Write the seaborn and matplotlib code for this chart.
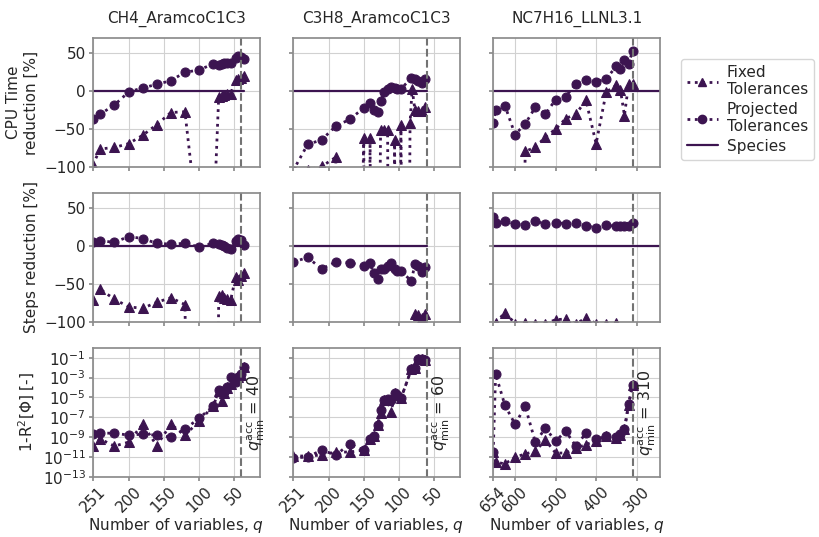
import numpy as np
import matplotlib
matplotlib.use("Agg")
import matplotlib.pyplot as plt
import matplotlib.transforms as mtransforms
from matplotlib.lines import Line2D
import seaborn as sns

sns.set_theme(style="whitegrid")
plt.rcParams['font.family'] = ['DejaVu Sans']
plt.rcParams['axes.edgecolor'] = '0.55'
plt.rcParams['grid.color'] = '0.82'
plt.rcParams['xtick.bottom'] = True
plt.rcParams['ytick.left'] = True

color = "#3c1450"
fs = 11

mechs = ["CH4_AramcoC1C3", "C3H8_AramcoC1C3", "NC7H16_LLNL3.1"]
q_min = [40, 60, 310]
x_ticks = [[251, 200, 150, 100, 50], [251, 200, 150, 100, 50], [654, 600, 500, 400, 300]]
x_lims = [(251, 14), (251, 13), (654, 242)]

# ---- CH4_AramcoC1C3 ----
ch4_q = [251, 240, 220, 200, 180, 160, 140, 120, 100, 80, 72, 68, 64, 60, 55, 48, 44, 40, 36]
ch4_cpu_proj = [-36, -30, -18, -1, 4.5, 9, 14, 25, 28, 36, 34, 36, 37, 37, 37, 44, 47, 45, 43]
ch4_cpu_fixed = [-97, -76, -74, -69, -58, -44, -28, -27, -190, -190, -7, -6, -5, -4, -3, 15, 16, 18, 20]
ch4_steps_proj = [6, 7, 5, 12.6, 10, 3.6, 2.7, 3.6, -1, 3.6, 3, 1, 0, -2, -4, 7, 9, 8, 1]
ch4_steps_fixed = [-71, -57, -70, -80, -82, -74, -68, -77, -1000, -1000, -66, -65, -68, -70, -71, -41, -44, -40, -35]
ch4_err_proj = [-8.7, -8.6, -8.6, -8.8, -8.7, -8.8, -9.0, -8.2, -7.1, -5.9, -4.3, -4.4, -4.5, -3.9, -2.9, -3.4, -2.9, -2.6, -1.9]
ch4_err_fixed = [-9.85, -9.2, -9.9, -9.5, -7.7, -9.85, -7.7, -8.8, -7.4, -5.9, -4.4, -5.4, -4.6, -4.0, -3.6, -3.1, -2.9, -2.7, -1.9]
ch4_species_q = [251, 36]

# ---- C3H8_AramcoC1C3 ----
c3h8_q = [251, 230, 210, 190, 170, 150, 141, 136, 130, 126, 121, 116, 111, 106, 102, 97, 82, 77, 73, 67, 62]
c3h8_cpu_proj = [-105, -70, -64, -46, -37, -22, -16, -25, -27, -13, -1, 3, 5, 4, 3, 3.5, 17, 15.6, 13, 11, 16]
c3h8_cpu_fixed_q = [251, 230, 210, 190, 170, 150, 146, 141, 136, 126, 121, 116, 111, 106, 102, 97, 90, 84, 81, 77, 73, 67, 62]
c3h8_cpu_fixed = [-115, -104, -99, -87, -1000, -62, -1000, -61, -1000, -51, -51, -51, -1000, -64, -1000, -45, -1000, -42, 3, -25, -26, -26, -21]
c3h8_steps_proj = [-21, -15, -30, -21, -22, -26, -22, -36, -43, -30, -30, -26, -22, -30, -33, -33, -46, -23, -26, -34, -28]
c3h8_steps_fixed_q = [77, 73, 67, 62]
c3h8_steps_fixed = [-89, -91, -95, -89]
c3h8_err_proj = [-11.1, -11.0, -10.3, -10.8, -9.7, -10.3, -9.2, -8.9, -7.8, -6.3, -5.3, -5.2, -5.3, -4.6, -4.8, -5.1, -2.15, -2.0, -1.1, -1.1, -1.25]
c3h8_err_fixed = [-10.9, -10.9, -10.8, -10.5, -10.5, -10.3, -9.2, -8.9, -7.8, -6.6, -5.3, -5.3, -6.5, -4.6, -4.8, -5.1, -2.15, -2.0, -1.1, -1.1, -1.25]
c3h8_species_q = [251, 60]

# ---- NC7H16_LLNL3.1 ----
nc7_q = [654, 648, 625, 600, 575, 550, 525, 500, 475, 450, 425, 400, 375, 350, 340, 330, 320, 310]
nc7_cpu_proj = [-42, -25, -19, -57, -43, -21, -30, -11, -7, 10, 15, 12.4, 16.4, 33, 29, 41, 35.6, 53]
nc7_cpu_fixed_q = [600, 575, 550, 525, 500, 475, 450, 425, 400, 375, 350, 340, 330, 320, 310]
nc7_cpu_fixed = [-1000, -79, -74, -60, -50, -36, -30, -12, -69, -1, 8, 2, -32, 9, 10]
nc7_steps_proj = [38, 30, 33.5, 29, 27.7, 33.5, 28.6, 31, 29.5, 30, 27, 24, 27.7, 26, 26, 27, 27, 30]
nc7_steps_fixed_q = [648, 625, 600, 575, 550, 525, 500, 475, 450, 425, 400, 375, 350]
nc7_steps_fixed = [-101, -87.5, -102, -101, -103, -102, -97, -96, -102, -95, -102, -103, -101]
nc7_err_proj = [-10.5, -2.65, -5.8, -7.7, -5.9, -9.5, -8.1, -9.4, -8.4, -9.9, -8.6, -9.2, -8.9, -9.0, -8.7, -8.2, -5.7, -3.7]
nc7_err_fixed = [-10.5, -11.5, -11.7, -11.0, -10.7, -10.4, -9.3, -10.6, -10.6, -10.1, -9.75, -9.35, -8.9, -9.1, -8.8, -8.2, -5.8, -3.7]
nc7_species_q = [654, 242]

cols = [
    dict(q=ch4_q, cpu_p=ch4_cpu_proj, cpu_fq=ch4_q, cpu_f=ch4_cpu_fixed,
         st_p=ch4_steps_proj, st_fq=ch4_q, st_f=ch4_steps_fixed,
         er_p=ch4_err_proj, er_f=ch4_err_fixed, sp=ch4_species_q),
    dict(q=c3h8_q, cpu_p=c3h8_cpu_proj, cpu_fq=c3h8_cpu_fixed_q, cpu_f=c3h8_cpu_fixed,
         st_p=c3h8_steps_proj, st_fq=c3h8_steps_fixed_q, st_f=c3h8_steps_fixed,
         er_p=c3h8_err_proj, er_f=c3h8_err_fixed, sp=c3h8_species_q),
    dict(q=nc7_q, cpu_p=nc7_cpu_proj, cpu_fq=nc7_cpu_fixed_q, cpu_f=nc7_cpu_fixed,
         st_p=nc7_steps_proj, st_fq=nc7_steps_fixed_q, st_f=nc7_steps_fixed,
         er_p=nc7_err_proj, er_f=nc7_err_fixed, sp=nc7_species_q),
]

fig, axes = plt.subplots(3, 3, figsize=(8.2, 5.37), dpi=100, sharex='col', sharey='row')
fig.subplots_adjust(left=0.113, right=0.805, top=0.929, bottom=0.112, wspace=0.2, hspace=0.2)

line_kw = dict(color=color, linestyle=':', linewidth=2, markersize=6.5,
               markeredgecolor=color, sort=False, estimator=None, legend=False)

for j, d in enumerate(cols):
    # CPU time
    ax = axes[0, j]
    sns.lineplot(x=d['cpu_fq'], y=d['cpu_f'], marker='^', ax=ax, **line_kw)
    sns.lineplot(x=d['q'], y=d['cpu_p'], marker='o', ax=ax, **line_kw)
    sns.lineplot(x=d['sp'], y=[0, 0], ax=ax, color=color, linewidth=1.6, legend=False)
    # steps
    ax = axes[1, j]
    sns.lineplot(x=d['st_fq'], y=d['st_f'], marker='^', ax=ax, **line_kw)
    sns.lineplot(x=d['q'], y=d['st_p'], marker='o', ax=ax, **line_kw)
    sns.lineplot(x=d['sp'], y=[0, 0], ax=ax, color=color, linewidth=1.6, legend=False)
    # error
    ax = axes[2, j]
    sns.lineplot(x=d['q'], y=np.power(10.0, d['er_f']), marker='^', ax=ax, **line_kw)
    sns.lineplot(x=d['q'], y=np.power(10.0, d['er_p']), marker='o', ax=ax, **line_kw)

    for i in range(3):
        a = axes[i, j]
        a.axvline(q_min[j], color='0.45', linestyle='--', linewidth=1.5)
        a.grid(True, color='0.82', linewidth=0.8)
        a.tick_params(labelsize=fs, length=3, color='0.55', pad=2)
    axes[0, j].set_title(mechs[j], fontsize=fs, pad=11)

    ax = axes[2, j]
    ax.set_xlim(x_lims[j])
    ax.set_xticks(x_ticks[j])
    ax.set_xticklabels([str(t) for t in x_ticks[j]], rotation=45)
    ax.set_xlabel('Number of variables, $q$', fontsize=fs, labelpad=1)
    trans = mtransforms.blended_transform_factory(ax.transData, ax.transAxes)
    trans = trans + mtransforms.ScaledTranslation(3 / 72, 0, fig.dpi_scale_trans)
    ax.text(q_min[j], 0.5, r'$q^{\mathrm{acc}}_{\mathrm{min}}$ = %d' % q_min[j], transform=trans,
            rotation=90, ha='left', va='center', fontsize=11.5)

for i in range(2):
    axes[i, 0].set_ylim(-100, 70)
    axes[i, 0].set_yticks([-100, -50, 0, 50])
axes[2, 0].set_yscale('log')
axes[2, 0].set_ylim(1e-13, 1)
axes[2, 0].set_yticks([1e-1, 1e-3, 1e-5, 1e-7, 1e-9, 1e-11, 1e-13])
for a in axes[2]:
    a.minorticks_off()

axes[0, 0].set_ylabel('CPU Time\nreduction [%]', fontsize=fs)
axes[1, 0].set_ylabel('Steps reduction [%]', fontsize=fs)
axes[2, 0].set_ylabel(r'1-R$^2$[$\Phi$] [-]', fontsize=fs)

handles = [
    Line2D([], [], color=color, linestyle=':', linewidth=2, marker='^', markersize=6),
    Line2D([], [], color=color, linestyle=':', linewidth=2, marker='o', markersize=6),
    Line2D([], [], color=color, linestyle='-', linewidth=1.6),
]
labels = ['Fixed\nTolerances', 'Projected\nTolerances', 'Species']
fig.legend(handles, labels, loc='upper left', bbox_to_anchor=(0.821, 0.905),
           fontsize=fs, frameon=True, handlelength=2, handletextpad=0.6, labelspacing=0.3)

fig.savefig('out.png', dpi=100)
